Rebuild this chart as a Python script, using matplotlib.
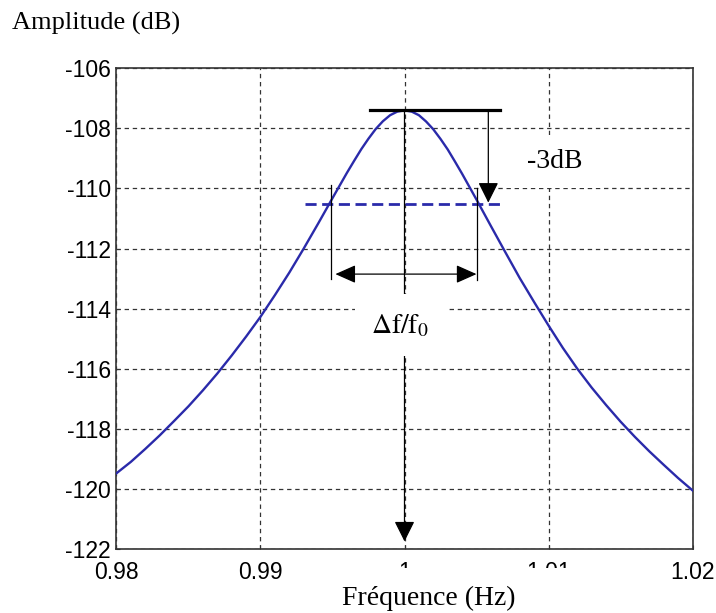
import numpy as np
import matplotlib
matplotlib.use('Agg')
import matplotlib.pyplot as plt
from matplotlib.patches import Rectangle

plt.rcParams['axes.unicode_minus'] = False
plt.rcParams['mathtext.fontset'] = 'stix'

# resonance curve
freq = [0.980, 0.981, 0.982, 0.983, 0.984, 0.985, 0.986, 0.987, 0.988, 0.989,
        0.990, 0.991, 0.992, 0.993, 0.994, 0.995, 0.9955, 0.996, 0.9965, 0.997,
        0.9975, 0.998, 0.9985, 0.999, 0.9995, 1.000, 1.0005, 1.001, 1.0015, 1.002,
        1.0025, 1.003, 1.0035, 1.004, 1.0045, 1.005, 1.006, 1.007, 1.008, 1.009,
        1.010, 1.011, 1.012, 1.013, 1.014, 1.015, 1.016, 1.017, 1.018, 1.019, 1.020]
amp = [-119.48, -119.10, -118.67, -118.22, -117.74, -117.25, -116.72, -116.16, -115.56, -114.93,
       -114.27, -113.55, -112.80, -112.0, -111.17, -110.32, -109.9, -109.48, -109.08, -108.69,
       -108.34, -108.02, -107.76, -107.56, -107.44, -107.4, -107.44, -107.56, -107.77, -108.03,
       -108.35, -108.70, -109.10, -109.51, -109.94, -110.37, -111.25, -112.12, -112.98, -113.78,
       -114.56, -115.31, -116.0, -116.63, -117.21, -117.76, -118.27, -118.75, -119.20, -119.64, -120.05]

f0 = 1.0
peak = -107.4
level_3db = -110.5
f_low = 0.9949
f_high = 1.0050

xticks = [0.98, 0.99, 1.0, 1.01, 1.02]
xticklabels = ['0.98', '0.99', '1', '1.01', '1.02']
yticks = [-122, -120, -118, -116, -114, -112, -110, -108, -106]

blue = '#2a2aaa'
grid_c = '#333333'

fig = plt.figure(figsize=(7.16, 6.13), dpi=100)
ax = fig.add_axes([0.1627, 0.1045, 0.8045, 0.7840])

ax.plot(freq, amp, color=blue, lw=1.7, zorder=3)

# peak marker and -3dB drop
ax.plot([0.99757, 1.00665], [peak, peak], color='black', lw=2.3, zorder=4)
ax.annotate('', xy=(1.00582, level_3db + 0.03), xytext=(1.00582, peak),
            arrowprops=dict(arrowstyle='-|>,head_length=0.9,head_width=0.45',
                            mutation_scale=14, color='black', lw=0.9, shrinkA=0, shrinkB=0),
            zorder=4)
ax.plot([0.99309, 1.00686], [level_3db, level_3db], color=blue, lw=2.0,
        linestyle=(0, (4, 2)), zorder=4)

# bandwidth markers
ax.plot([f_low, f_low], [-109.9, -113.0], color='black', lw=0.9, zorder=4)
ax.plot([f_high, f_high], [-110.0, -113.05], color='black', lw=0.9, zorder=4)
ax.annotate('', xy=(f_low + 0.0003, -112.85), xytext=(f_high, -112.85),
            arrowprops=dict(arrowstyle='<|-|>,head_length=0.9,head_width=0.4',
                            mutation_scale=14, color='black', lw=0.9, shrinkA=0, shrinkB=0),
            zorder=4)

# centre line down to f0
ax.annotate('', xy=(f0, -121.75), xytext=(f0, peak),
            arrowprops=dict(arrowstyle='-|>,head_length=0.9,head_width=0.45',
                            mutation_scale=14, color='black', lw=0.9, shrinkA=0, shrinkB=0),
            zorder=4)

ax.text(1.0104, -109.1, ' -3dB ', fontsize=20, family='Liberation Serif',
        ha='center', va='center', zorder=6,
        bbox=dict(boxstyle='square,pad=0.5', fc='white', ec='none'))
ax.text(0.9997, -114.55, r'$\Delta\mathrm{f/f}_0$', fontsize=20,
        ha='center', va='center', zorder=6,
        bbox=dict(boxstyle='square,pad=0.6', fc='white', ec='none'))

ax.set_xlim(0.98, 1.02)
ax.set_ylim(-122, -106)
ax.set_xticks(xticks)
ax.set_xticklabels(xticklabels)
ax.set_yticks(yticks)
ax.grid(True, color=grid_c, linestyle=(0, (3.5, 3)), lw=0.9)
ax.tick_params(direction='in', length=3, width=0.8, colors=grid_c, labelcolor='black',
               labelsize=16.5)
ax.tick_params(axis='x', pad=9)
ax.tick_params(axis='y', pad=4)
for lab in ax.get_xticklabels() + ax.get_yticklabels():
    lab.set_family('Liberation Sans')
for s in ax.spines.values():
    s.set_linewidth(1.2)
    s.set_color(grid_c)

# label box hides part of the tick labels, as in the source figure
fig.patches.append(Rectangle((0.447, 0.0), 0.363, 0.0734, transform=fig.transFigure,
                             fc='white', ec='none', zorder=5))
fig.text(0.599, 0.0245, 'Fréquence (Hz)', fontsize=20, family='Liberation Serif',
         ha='center', va='center', zorder=6)
fig.text(0.0168, 0.961, 'Amplitude (dB)', fontsize=19, family='Liberation Serif',
         ha='left', va='center')

fig.savefig('out.png', dpi=100)
